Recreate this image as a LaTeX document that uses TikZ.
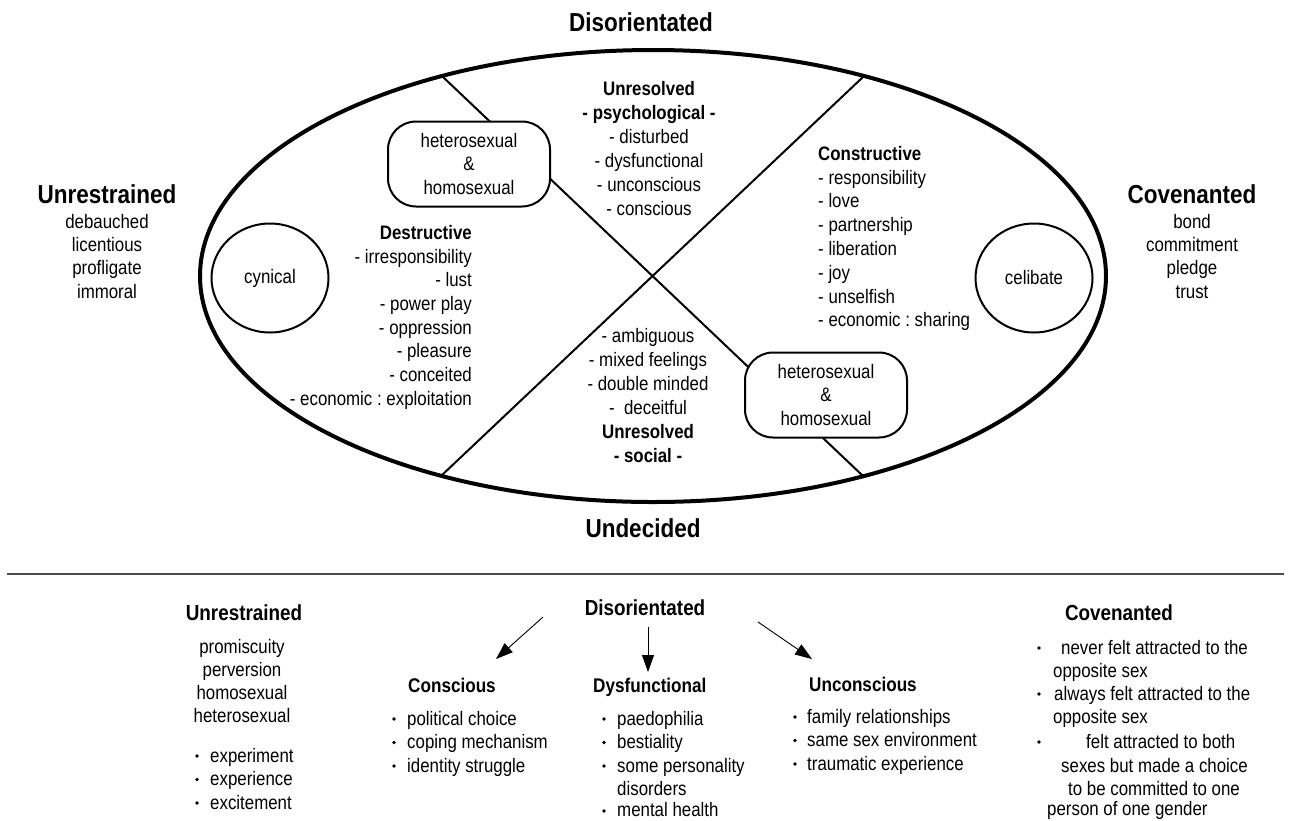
\documentclass[tikz,border=0pt]{standalone}
\usepackage{fontspec}
\setmainfont[FakeStretch=0.865]{Liberation Sans}
\usetikzlibrary{shapes.geometric,arrows.meta}
\frenchspacing
\begin{document}
\begin{tikzpicture}[x=1pt,y=-1pt,
 txt/.style={font=\fontsize{19.5}{23.5}\selectfont, inner sep=0pt},
 btxt/.style={font=\bfseries\fontsize{19.5}{23.5}\selectfont, inner sep=0pt},
 bigl/.style={font=\bfseries\fontsize{26}{30}\selectfont, inner sep=0pt},
 midl/.style={font=\bfseries\fontsize{21.8}{25}\selectfont, inner sep=0pt},
 subl/.style={font=\bfseries\fontsize{19.8}{23}\selectfont, inner sep=0pt},
 hbox/.style={draw, line width=2pt, fill=white, rounded corners=28pt, minimum width=162pt, minimum height=85pt, align=center, font=\fontsize{19.5}{23.5}\selectfont, inner sep=0pt},
 circ/.style={draw, ellipse, line width=2pt, fill=white, minimum width=117pt, minimum height=109pt, inner sep=0pt, font=\fontsize{19.5}{23.5}\selectfont},
 divider/.style={line width=2pt},
 dot/.style={circle, fill, inner sep=0pt, minimum size=3.6pt},
 arr/.style={line width=0.9pt, -{Triangle[length=17pt,width=12pt]}}
]
\useasboundingbox (0,0) rectangle (1289,820);

% main ellipse
\draw[line width=4pt] (653,276) ellipse [x radius=453, y radius=226];

% dividing lines
\coordinate (tl) at (443,77);
\coordinate (br) at (863,476);
\coordinate (tr) at (863,77);
\coordinate (bl) at (441,476);
\draw[divider] (tl) -- (br);
\draw[divider] (tr) -- (bl);

% boxes and circles
\node[hbox] (box1) at (469,164) {heterosexual\\\&\\homosexual};
\node[hbox] (box2) at (826,395) {heterosexual\\\&\\homosexual};
\node[circ] (cyn) at (270,278) {cynical};
\node[circ] (cel) at (1034,278) {celibate};

% outer labels
\node[bigl, anchor=base] (topd) at (641,31) {Disorientated};
\node[bigl, anchor=base] (botu) at (643,537) {Undecided};
\node[bigl, anchor=base] (lu) at (107,203) {Unrestrained};
\foreach \t [count=\i] in {debauched, licentious, profligate, immoral}
  \node[txt, anchor=base] (lu\i) at (107,{228+23.4*(\i-1)}) {\t};
\node[bigl, anchor=base] (rc) at (1192,203) {Covenanted};
\foreach \t [count=\i] in {bond, commitment, pledge, trust}
  \node[txt, anchor=base] (rc\i) at (1192,{228+23.4*(\i-1)}) {\t};

% unresolved psychological
\node[btxt, anchor=base] (up1) at (649,95) {Unresolved};
\node[btxt, anchor=base] (up2) at (649,119) {- psychological -};
\foreach \t [count=\i] in {- disturbed, - dysfunctional, - unconscious, - conscious}
  \node[txt, anchor=base] (up\i x) at (649,{143+24*(\i-1)}) {\t};

% destructive
\node[btxt, anchor=base east] (des) at (472,239) {Destructive};
\foreach \t [count=\i] in {- irresponsibility, - lust, - power play, - oppression, - pleasure, - conceited, - economic : exploitation}
  \node[txt, anchor=base east] (des\i) at (472,{263+23.67*(\i-1)}) {\t};

% constructive
\node[btxt, anchor=base west] (con) at (818,160) {Constructive};
\foreach \t [count=\i] in {- responsibility, - love, - partnership, - liberation, - joy, - unselfish, - economic : sharing}
  \node[txt, anchor=base west] (con\i) at (818,{184+23.83*(\i-1)}) {\t};

% unresolved social
\foreach \t [count=\i] in {- ambiguous, - mixed feelings, - double minded, {-\ \ deceitful}}
  \node[txt, anchor=base] (us\i) at (648,{342+24*(\i-1)}) {\t};
\node[btxt, anchor=base] (us5) at (648,438) {Unresolved};
\node[btxt, anchor=base] (us6) at (648,462) {- social -};

% separator
\coordinate (sepL) at (7,574);
\coordinate (sepR) at (1284,574);
\draw[line width=1.5pt, black!70] (sepL) -- (sepR);

% bottom: unrestrained
\node[midl, anchor=base] (bu) at (244,620) {Unrestrained};
\foreach \t [count=\i] in {promiscuity, perversion, homosexual, heterosexual}
  \node[txt, anchor=base] (bu\i) at (242,{653+23.3*(\i-1)}) {\t};
\foreach \t [count=\i] in {experiment, experience, excitement} {
  \node[txt, anchor=base west] (be\i) at (210,{762+23.5*(\i-1)}) {\t};
  \node[dot] (bd\i) at (197,{756+23.5*(\i-1)}) {};
}

% bottom: disorientated and arrows
\node[midl, anchor=base] (bd) at (645,615) {Disorientated};
\coordinate (a1s) at (543,617);
\coordinate (a1e) at (496,659);
\coordinate (a2s) at (648,627);
\coordinate (a2e) at (648,672);
\coordinate (a3s) at (758,622);
\coordinate (a3e) at (812,659);
\draw[arr] (a1s) -- (a1e);
\draw[arr] (a2s) -- (a2e);
\draw[arr] (a3s) -- (a3e);

% conscious
\node[subl, anchor=base west] (cs) at (408,692) {Conscious};
\foreach \t [count=\i] in {political choice, coping mechanism, identity struggle} {
  \node[txt, anchor=base west] (cs\i) at (407,{725+23.5*(\i-1)}) {\t};
  \node[dot] (csd\i) at (394,{719+23.5*(\i-1)}) {};
}

% dysfunctional
\node[subl, anchor=base west] (df) at (593,692) {Dysfunctional};
\foreach \t [count=\i] in {paedophilia, bestiality, some personality} {
  \node[txt, anchor=base west] (df\i) at (617,{725+23.5*(\i-1)}) {\t};
  \node[dot] (dfd\i) at (604,{719+23.5*(\i-1)}) {};
}
\node[txt, anchor=base west] (df4) at (617,795) {disorders};
\node[txt, anchor=base west] (df5) at (617,816.5) {mental health};
\node[dot] (dfd5) at (604,811) {};

% unconscious
\node[subl, anchor=base west] (uc) at (809,691) {Unconscious};
\foreach \t [count=\i] in {family relationships, same sex environment, traumatic experience} {
  \node[txt, anchor=base west] (uc\i) at (807,{723+23.5*(\i-1)}) {\t};
  \node[dot] (ucd\i) at (795,{717+23.5*(\i-1)}) {};
}

% covenanted
\node[midl, anchor=base] (bc) at (1119,620) {Covenanted};
\node[txt, anchor=base west] (bc1) at (1061,654) {never felt attracted to the};
\node[txt, anchor=base west] (bc2) at (1053,677) {opposite sex};
\node[txt, anchor=base west] (bc3) at (1054,700) {always felt attracted to the};
\node[txt, anchor=base west] (bc4) at (1053,723) {opposite sex};
\node[txt, anchor=base west] (bc5) at (1086,748) {felt attracted to both};
\node[txt, anchor=base west] (bc6) at (1061,772) {sexes but made a choice};
\node[txt, anchor=base west] (bc7) at (1068,795) {to be committed to one};
\node[txt, anchor=base west] (bc8) at (1047,815) {person of one gender};
\node[dot] (bcd1) at (1039,648) {};
\node[dot] (bcd2) at (1039,694) {};
\node[dot] (bcd3) at (1039,742) {};
\end{tikzpicture}
\end{document}
